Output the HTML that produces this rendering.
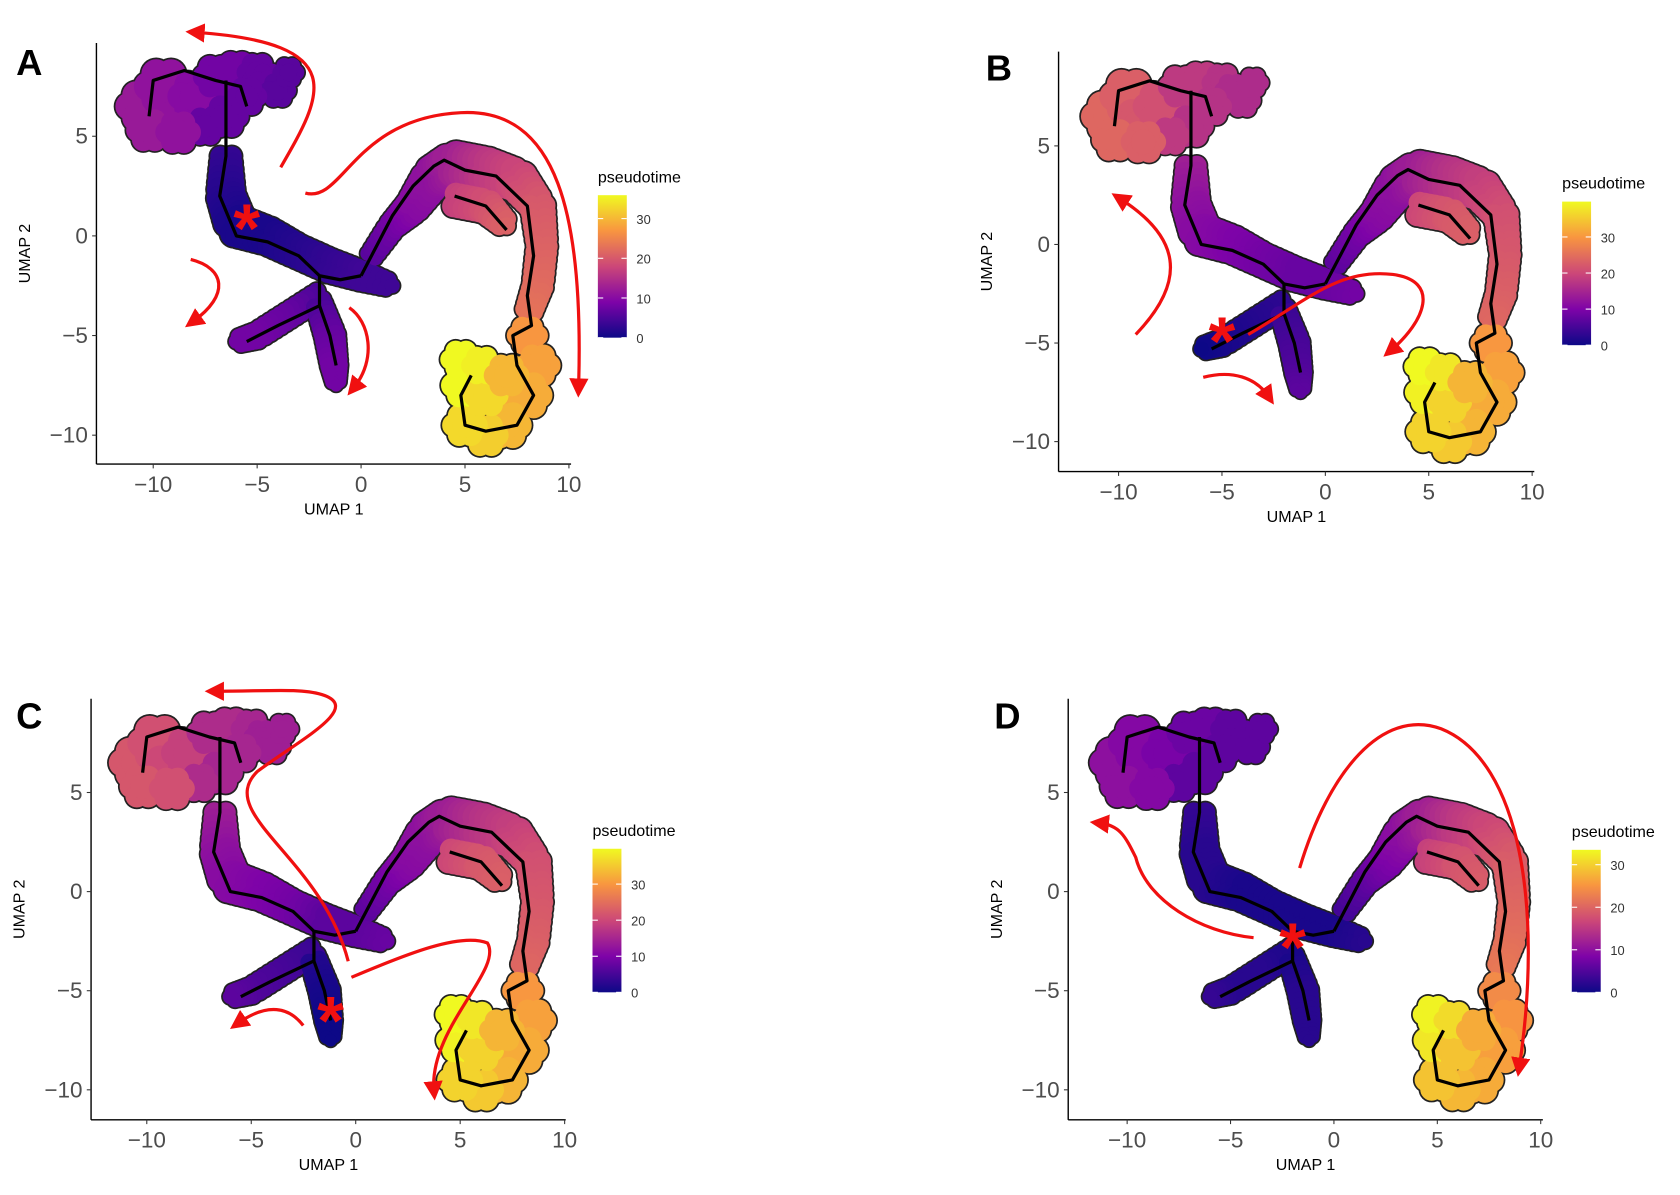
<!DOCTYPE html>
<html><head><meta charset="utf-8"><style>
html,body{margin:0;padding:0;background:#fff;}
svg{display:block;}
text{font-family:"Liberation Sans",sans-serif;}
</style></head><body>
<svg id="fig" width="1680" height="1195" viewBox="0 0 1568 1115">
<defs>
<marker id="ah" markerWidth="6" markerHeight="6" refX="3" refY="3" orient="auto" markerUnits="strokeWidth"><path d="M0,0 L6,3 L0,6 z" fill="#f01010"/></marker>
<linearGradient id="plasma" x1="0" y1="1" x2="0" y2="0">
<stop offset="0" stop-color="#0d0887"/><stop offset="0.25" stop-color="#7e03a8"/><stop offset="0.5" stop-color="#cc4778"/><stop offset="0.75" stop-color="#f89540"/><stop offset="1" stop-color="#f0f921"/></linearGradient>
</defs>
</svg>
<script>
const blobX=[-10.5,-9.5,-9,-8,-7,-6,-5,-4.5,-6.5,-7.5,-10.2,-8.8,-4,-3.5,-5.5];
const blobY=[6.5,7.5,6,7,8,8.2,8.2,7.8,6,5.5,5.3,5.2,7.3,8.2,7];
const blobR=[1.2,1.3,1.3,1.2,1.0,1.0,0.9,0.8,1.0,0.9,1.0,1.0,0.8,0.7,0.9];
const blobT=[[12,11,11,10,8,8,7,7,7,7,12,11,6,6,7],[24,23,22,21,18,18,17,16,17,18,24,23,16,16,17],[22,21,20,19,16,16,15,14,15,16,22,21,14,14,15],[10,9,9,8,7,7,6,6,6,6,10,9,6,6,6]];
const stemX=[-6.5,-6.5,-6,-4.5,-3,-1.5,0,1.5];
const stemY=[4,2,0.5,0,-0.8,-1.5,-2,-2.5];
const stemR=[0.8,1.0,1.1,1.0,0.9,0.9,0.8,0.6];
const stemT=[[3,2,1,1,2,3,4,4],[14,12,11,10,9,8,8,9],[14,12,11,10,9,7,7,8],[3,2,2,1,1,1,1,2]];
const armLX=[-2,-3.5,-5,-6],armLY=[-3,-4,-5,-5.3],armLR=[0.7,0.7,0.7,0.6];
const armLT=[[5,7,8,8],[3,2,1,0],[4,5,6,7],[1,2,2,3]];
const armDX=[-2,-1.5,-1.3,-1.2],armDY=[-3.5,-5,-6.5,-7.5],armDR=[0.7,0.8,0.7,0.5];
const armDT=[[5,7,8,8],[4,5,6,7],[2,1,0,0],[1,2,2,2]];
const arcX=[0.5,1.5,2.5,3.5,4.5,6,7.5,8.5,8.7,8.5,8];
const arcY=[-1,0.5,1.5,3,3.6,3.3,2.8,1.5,-0.5,-2.5,-4];
const arcR=[0.6,0.7,0.9,1.1,1.2,1.2,1.1,0.9,0.8,0.8,0.7];
const arcT=[[6,8,10,11,13,16,18,20,21,22,23],[7,9,11,12,14,17,19,21,22,23,24],[7,9,11,12,14,17,19,21,22,23,24],[4,6,8,10,12,15,17,19,20,21,22]];
const innX=[4.5,6,7],innY=[1.8,1.5,0.5],innR=[0.9,0.9,0.7];
const innT=[[17,19,21],[20,22,23],[20,22,23],[16,18,19]];
const botX=[8,8.5,8,7,6,5,5,6,4.8,5.8,7];
const botY=[-5,-6.5,-8,-9.5,-10,-9.5,-7.5,-8,-6.2,-6.5,-7];
const botR=[0.9,1.0,1.1,1.1,1.0,1.0,1.05,1.0,0.9,0.9,1.0];
const botT=[[27,28,29,30,32,33,36,33,37,35,30],[30,31,32,33,35,36,39,36,40,38,33],[30,31,32,33,35,36,39,36,40,38,33],[24,25,26,27,28,29,32,29,33,31,27]];
const trajX=[[-10.2,-10,-8.5,-7,-5.8,-5.5],[-6.5,-6.5,-6.8,-6,-4.5,-3,-2,-1,0],[0,1.5,2.5,3.5,4,5,6.5,8,8.3,8,8.2,7.3,7.5,8.3,7.5,6,5,4.8,5.3],[-2,-2,-4,-5.5],[-2,-1.5,-1.2],[4.5,6,7]];
const trajY=[[6,7.8,8.3,7.8,7.5,6.5],[7.8,4,2,0,-0.3,-1,-2,-2.2,-2],[-2,1,2.5,3.5,3.8,3.3,3,1.5,-1,-3,-4.5,-5,-6.5,-8,-9.5,-9.8,-9.5,-8,-7],[-2,-3.5,-4.5,-5.3],[-3.5,-5,-6.5],[2,1.5,0.3]];
const xTicks=[-10,-5,0,5,10], xTickLabels=["\u221210","\u22125","0","5","10"];
const yTicks=[5,0,-5,-10], yTickLabels=["5","0","\u22125","\u221210"];
const cbTicks=[0,10,20,30];
const cbMax=[35.9,39.8,39.8,33.5];
const panelLetters=["A","B","C","D"];
const starX=[-5.5,-5,-1.2,-2], starY=[0.7,-4.6,-6.2,-2.5];

const P=[
 {x0:337,sx:19.4,y0:220,sy:18.6,ax:90,top:40,bot:433,right:533,lx:15,ly:70,cbx:558,cby:182,cbh:133},
 {x0:1237,sx:19.3,y0:228,sy:18.4,ax:988,top:48,bot:440,right:1432,lx:920,ly:75,cbx:1458,cby:188,cbh:134},
 {x0:332,sx:19.5,y0:832,sy:18.5,ax:85,top:652,bot:1045,right:528,lx:15,ly:680,cbx:553,cby:792,cbh:134},
 {x0:1245,sx:19.3,y0:832,sy:18.5,ax:997,top:652,bot:1045,right:1440,lx:928,ly:680,cbx:1467,cby:793,cbh:133}];
const arrows=[
 ["M262,156 C300,90 330,40 182,30","M285,180 C320,190 330,110 430,105 C520,100 545,200 540,362","M178,242 C210,250 215,275 180,300","M326,287 C345,300 352,335 330,362"],
 ["M1060,312 C1110,260 1100,220 1045,185","M1165,312 C1220,280 1250,250 1300,256 C1345,262 1330,300 1298,327","M1123,352 C1150,345 1172,352 1184,370"],
 ["M325,897 C300,800 200,760 240,720 C280,690 340,660 300,648 C280,642 250,645 200,645","M328,912 C380,890 430,870 455,880 C470,905 400,960 405,1018","M283,957 C270,940 250,935 222,955"],
 ["M1170,875 C1120,870 1070,840 1060,800 C1050,780 1045,770 1026,768","M1213,810 C1240,720 1290,660 1345,680 C1420,710 1440,850 1418,996"]];

const stops=[[13,8,135],[126,3,168],[204,71,120],[248,149,64],[240,249,33]];
function plasma(v){v=Math.max(0,Math.min(1,v));const s=v*4,i=Math.min(3,Math.floor(s)),f=s-i;
 const a=stops[i],b=stops[i+1];return `rgb(${a.map((c,k)=>Math.round(c+(b[k]-c)*f)).join(',')})`;}
const NS="http://www.w3.org/2000/svg",svg=document.getElementById('fig');
function mk(tag,attrs,parent){const e=document.createElementNS(NS,tag);for(const k in attrs)e.setAttribute(k,attrs[k]);(parent||svg).appendChild(e);return e;}

function drawPanel(p,pi){
 const c=P[pi];const sxf=v=>c.x0+v*c.sx, syf=v=>c.y0-v*c.sy;
 const g=mk('g',{});
 
 
 const structs=[[blobX,blobY,blobR,blobT,false],[stemX,stemY,stemR,stemT,true],[armLX,armLY,armLR,armLT,true],[armDX,armDY,armDR,armDT,true],[arcX,arcY,arcR,arcT,true],[innX,innY,innR,innT,true],[botX,botY,botR,botT,false]];
 const cells=[];
 structs.forEach(([X,Y,R,T,line])=>{
  const t=T[pi];
  if(!line){X.forEach((x,i)=>{for(let k=0;k<6;k++){const ang=k*1.047,d=R[i]*0.55;cells.push([x+Math.cos(ang)*d,Y[i]+Math.sin(ang)*d,R[i]*0.55,t[i]]);}cells.push([x,Y[i],R[i]*0.6,t[i]]);});}
  else{for(let i=0;i<X.length-1;i++){const n=6;for(let s=0;s<n;s++){const f=s/n;const x=X[i]+(X[i+1]-X[i])*f,y=Y[i]+(Y[i+1]-Y[i])*f,r=R[i]+(R[i+1]-R[i])*f,tt=t[i]+(t[i+1]-t[i])*f;
    const dx=X[i+1]-X[i],dy=Y[i+1]-Y[i],L=Math.hypot(dx,dy)||1,nx=-dy/L,ny=dx/L;
    cells.push([x+nx*r*0.35,y+ny*r*0.35,r*0.6,tt]);cells.push([x-nx*r*0.35,y-ny*r*0.35,r*0.6,tt]);}}
   const l=X.length-1;cells.push([X[l],Y[l],R[l]*0.6,t[l]]);}
 });
 const gc=mk('g',{},g);
 
 
 cells.forEach(([x,y,r])=>{mk('circle',{cx:sxf(x),cy:syf(y),r:r*c.sx+1.6,fill:'#222'},gc);});
 cells.forEach(([x,y,r,t])=>{const e=mk('circle',{cx:sxf(x),cy:syf(y),r:r*c.sx,fill:plasma(t/cbMax[pi])},gc);
  
  });
 trajX.forEach((X,k)=>{const d=X.map((x,i)=>(i?'L':'M')+sxf(x)+','+syf(trajY[k][i])).join(' ');
  const e=mk('path',{d,fill:'none',stroke:'#000','stroke-width':3,'stroke-linejoin':'round'},g);
  
  });
 const ya=mk('line',{x1:c.ax,y1:c.top,x2:c.ax,y2:c.bot,stroke:'#000','stroke-width':1.3},g);
 
 
 const xa=mk('line',{x1:c.ax,y1:c.bot,x2:c.right,y2:c.bot,stroke:'#000','stroke-width':1.3},g);
 
 
 xTicks.forEach((v,i)=>{mk('line',{x1:sxf(v),y1:c.bot,x2:sxf(v),y2:c.bot+4,stroke:'#333'},g);
  const t=mk('text',{x:sxf(v),y:c.bot+26,'text-anchor':'middle','font-size':21,fill:'#4d4d4d'},g);t.textContent=xTickLabels[i];
  
  });
 yTicks.forEach((v,i)=>{mk('line',{x1:c.ax-4,y1:syf(v),x2:c.ax,y2:syf(v),stroke:'#333'},g);
  const t=mk('text',{x:c.ax-8,y:syf(v)+7,'text-anchor':'end','font-size':21,fill:'#4d4d4d'},g);t.textContent=yTickLabels[i];
  
  });
 const xt=mk('text',{x:(c.ax+c.right)/2,y:c.bot+47,'text-anchor':'middle','font-size':15},g);xt.textContent='UMAP 1';
 
 
 const yy=(c.top+c.bot)/2;
 const yt=mk('text',{x:0,y:0,transform:`translate(${c.ax-62},${yy}) rotate(-90)`,'text-anchor':'middle','font-size':15},g);yt.textContent='UMAP 2';
 
 
 const lt=mk('text',{x:c.lx,y:c.ly,'font-size':34,'font-weight':'bold'},g);lt.textContent=panelLetters[pi];
 
 
 const cb=mk('g',{},g);
 
 
 const ct=mk('text',{x:c.cbx,y:c.cby-12,'font-size':15},cb);ct.textContent='pseudotime';
 mk('rect',{x:c.cbx,y:c.cby,width:27,height:c.cbh,fill:'url(#plasma)'},cb);
 cbTicks.forEach(v=>{const y=c.cby+c.cbh-v/cbMax[pi]*c.cbh;
  mk('line',{x1:c.cbx,y1:y,x2:c.cbx+5,y2:y,stroke:'#fff'},cb);mk('line',{x1:c.cbx+22,y1:y,x2:c.cbx+27,y2:y,stroke:'#fff'},cb);
  const t=mk('text',{x:c.cbx+36,y:y+5,'font-size':12,fill:'#333'},cb);t.textContent=v;
  
  });
 arrows[pi].forEach(d=>{const e=mk('path',{d,fill:'none',stroke:'#f01010','stroke-width':3,'marker-end':'url(#ah)'},g);
  
  });
 const st=mk('text',{x:sxf(starX[pi]),y:syf(starY[pi])+28,'text-anchor':'middle','font-size':64,'font-weight':'bold',fill:'#f01010'},g);st.textContent='*';
 
 
}
[0,1,2,3].forEach(i=>drawPanel(P[i],i));
</script>
</body></html>
